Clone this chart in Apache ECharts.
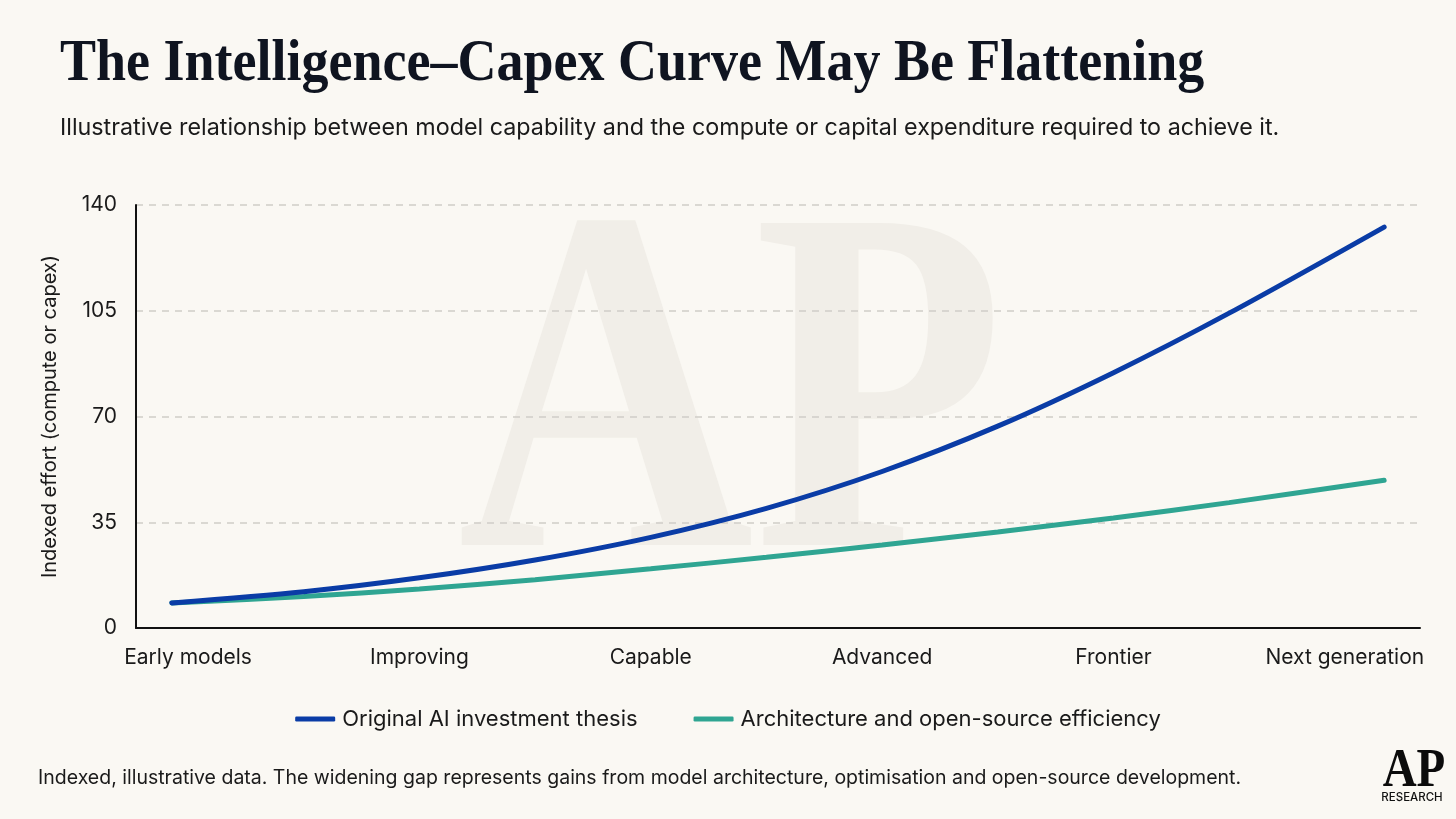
<!DOCTYPE html>
<html>
<head>
<meta charset="utf-8">
<script src="https://cdn.jsdelivr.net/npm/echarts@6/dist/echarts.min.js"></script>
<style>
  html, body { margin: 0; padding: 0; background: #faf8f3; }
  #chart { width: 1456px; height: 819px; }
</style>
</head>
<body>
<div id="chart"></div>
<script>
// categories along the capability axis
const categories = ['Early models', 'Improving', 'Capable', 'Advanced', 'Frontier', 'Next generation']
const categoryPos = [0, 1, 2, 3, 4, 5]
const yTicks = [0, 35, 70, 105, 140]

// curves, x in category units
const curveX = [-0.07, 0.5, 1, 1.5, 2, 2.5, 3, 3.5, 4, 4.5, 5.17]
const originalThesis = [8.3, 12.0, 16.6, 22.5, 30.0, 39.6, 51.8, 66.8, 84.5, 104.2, 132.7]
const openSourceEff = [8.3, 10.4, 12.9, 16.0, 19.6, 23.4, 27.5, 31.8, 36.4, 41.5, 48.9]

const sans = 'Inter, "Noto Sans", sans-serif'
const serif = '"Liberation Serif", "DejaVu Serif", serif'

let pairs = (xs, ys) => xs.map((x, i) => [x, ys[i]])

let chart = echarts.init(document.getElementById('chart'))

let option = {
    backgroundColor: '#faf8f3',
    animation: false,
    grid: { left: 136, right: 36, top: 205, bottom: 191 },
    xAxis: {
        type: 'value',
        min: -0.225,
        max: 5.325,
        splitLine: { show: false },
        axisTick: { show: false },
        axisLine: { lineStyle: { color: '#111', width: 2 } },
        axisLabel: {
            customValues: categoryPos,
            margin: 19,
            fontFamily: sans,
            fontSize: 21,
            color: '#1a1a1a',
            formatter: (v) => categories[Math.round(v)]
        }
    },
    yAxis: {
        type: 'value',
        min: yTicks[0],
        max: yTicks[yTicks.length - 1],
        interval: 35,
        name: 'Indexed effort (compute or capex)',
        nameLocation: 'middle',
        nameGap: 76,
        nameTextStyle: { fontFamily: sans, fontSize: 20, color: '#1a1a1a' },
        axisTick: { show: false },
        axisLine: { show: true, onZero: false, lineStyle: { color: '#111', width: 2 } },
        axisLabel: { margin: 19, fontFamily: sans, fontSize: 21, color: '#1a1a1a' },
        splitLine: { lineStyle: { color: '#cfcdc8', type: [7, 6], width: 1.5 } }
    },
    legend: {
        bottom: 84,
        left: 'center',
        itemWidth: 40,
        itemHeight: 5,
        itemGap: 56,
        icon: 'roundRect',
        textStyle: { fontFamily: sans, fontSize: 22, color: '#1a1a1a', padding: [0, 0, 0, 2] }
    },
    series: [
        {
            name: 'Original AI investment thesis',
            type: 'line',
            data: pairs(curveX, originalThesis),
            smooth: 0.3,
            showSymbol: false,
            color: '#0a3ca6',
            lineStyle: { width: 5, cap: 'round' },
            z: 3
        },
        {
            name: 'Architecture and open-source efficiency',
            type: 'line',
            data: pairs(curveX, openSourceEff),
            smooth: 0.3,
            showSymbol: false,
            color: '#2fa592',
            lineStyle: { width: 5, cap: 'round' },
            z: 2
        }
    ],
    graphic: [
        // watermark behind the plot
        {
            type: 'text', z: -10, silent: true,
            x: 731, y: 664, scaleY: 1.2,
            style: {
                text: 'AP', x: 0, y: 0,
                textAlign: 'center', textVerticalAlign: 'bottom',
                font: 'bold 410px ' + serif, fill: '#f1eee8'
            }
        },
        {
            type: 'text', x: 60, y: 64, scaleX: 0.9,
            style: {
                text: 'The Intelligence\u2013Capex Curve May Be Flattening',
                textVerticalAlign: 'middle',
                font: 'bold 60px ' + serif, fill: '#0f1420'
            }
        },
        {
            type: 'text', x: 60, y: 128,
            style: {
                text: 'Illustrative relationship between model capability and the compute or capital expenditure required to achieve it.',
                textVerticalAlign: 'middle',
                font: '23.3px ' + sans, fill: '#1a1a1a'
            }
        },
        {
            type: 'text', x: 38, y: 778,
            style: {
                text: 'Indexed, illustrative data. The widening gap represents gains from model architecture, optimisation and open-source development.',
                textVerticalAlign: 'middle',
                font: '19.5px ' + sans, fill: '#1a1a1a'
            }
        },
        // logo
        {
            type: 'text', x: 1414, y: 772, scaleY: 1.15,
            style: {
                text: 'AP', textAlign: 'center', textVerticalAlign: 'middle',
                font: 'bold 47px ' + serif, fill: '#0b0b0b'
            }
        },
        {
            type: 'text', x: 1412, y: 798,
            style: {
                text: 'RESEARCH', textAlign: 'center', textVerticalAlign: 'middle',
                font: '500 11.5px ' + sans, fill: '#111'
            }
        }
    ]
}

chart.setOption(option)
</script>
</body>
</html>
